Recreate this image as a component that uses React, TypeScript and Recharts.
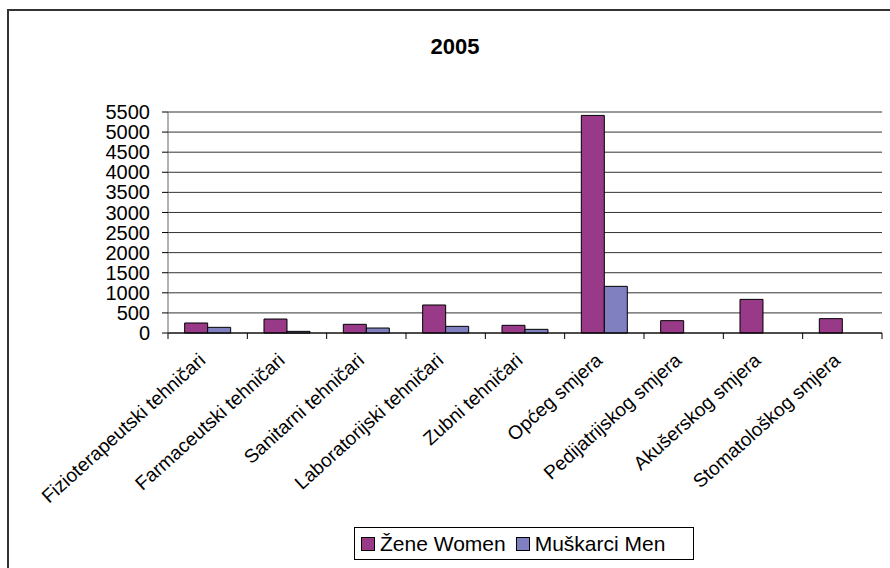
import { BarChart, Bar, XAxis, YAxis, CartesianGrid } from 'recharts';

// categories and values
const categories = [
  'Fizioterapeutski tehničari',
  'Farmaceutski tehničari',
  'Sanitarni tehničari',
  'Laboratorijski tehničari',
  'Zubni tehničari',
  'Općeg smjera',
  'Pedijatrijskog smjera',
  'Akušerskog smjera',
  'Stomatološkog smjera',
];
const women = [249, 348, 216, 697, 191, 5415, 307, 837, 357];
const men = [141, 41, 124, 166, 91, 1161, 0, 0, 0];
const yTicks = [0, 500, 1000, 1500, 2000, 2500, 3000, 3500, 4000, 4500, 5000, 5500];

const WOMEN_COLOR = '#993a88';
const MEN_COLOR = '#8080c0';
const FONT = 'Arial, "Liberation Sans", sans-serif';

const data = categories.map((name, i) => ({ name, women: women[i], men: men[i] }));

const CategoryTick = (props: any) => {
  const { x, y, payload, index } = props;
  const half = payload?.offset ?? 714 / categories.length / 2;
  const tx = x - 1;
  const ty = y + 29;
  return (
    <g>
      <line x1={x - half} y1={y} x2={x - half} y2={y + 6} stroke="#000" />
      {index === categories.length - 1 && (
        <line x1={x + half} y1={y} x2={x + half} y2={y + 6} stroke="#000" />
      )}
      <text
        x={tx}
        y={ty}
        textAnchor="end"
        transform={`rotate(-42, ${tx}, ${ty})`}
        style={{ fontSize: 19.2, fontFamily: FONT, fill: '#000' }}
      >
        {payload.value}
      </text>
    </g>
  );
};

const LegendItem = ({ color, label }: { color: string; label: string }) => (
  <span style={{ display: 'inline-flex', alignItems: 'center', marginRight: 10 }}>
    <span
      style={{
        display: 'inline-block',
        width: 12,
        height: 12,
        background: color,
        border: '1px solid #000',
        marginRight: 5,
      }}
    />
    {label}
  </span>
);

export default function App() {
  return (
    <div
      style={{
        position: 'absolute',
        left: 0,
        top: 0,
        width: 890,
        height: 568,
        overflow: 'hidden',
        background: '#fff',
        fontFamily: FONT,
      }}
    >
      <div
        style={{
          position: 'absolute',
          left: 7,
          top: 9,
          width: 950,
          height: 650,
          border: '2px solid #333',
        }}
      />
      <div
        style={{
          position: 'absolute',
          left: 0,
          top: 34,
          width: 910,
          textAlign: 'center',
          fontSize: 22,
          fontWeight: 'bold',
          color: '#000',
        }}
      >
        2005
      </div>

      <div style={{ position: 'absolute', left: 0, top: 0 }}>
        <BarChart
          width={890}
          height={568}
          data={data}
          margin={{ top: 112, right: 8, bottom: 0, left: 0 }}
          barCategoryGap="21%"
          barGap={0}
        >
          <CartesianGrid horizontal vertical={false} stroke="#333" />
          <XAxis
            dataKey="name"
            height={235}
            interval={0}
            tickLine={false}
            tickSize={0}
            tickMargin={0}
            axisLine={{ stroke: '#000' }}
            tick={<CategoryTick />}
          />
          <YAxis
            width={168}
            domain={[0, 5500]}
            ticks={yTicks}
            interval={0}
            tickSize={6}
            tickMargin={12}
            axisLine={{ stroke: '#666' }}
            tickLine={{ stroke: '#000' }}
            tick={{ fontSize: 20, fontFamily: FONT, fill: '#000' }}
          />
          <Bar dataKey="women" fill={WOMEN_COLOR} stroke="#000" strokeWidth={1} isAnimationActive={false} />
          <Bar dataKey="men" fill={MEN_COLOR} stroke="#000" strokeWidth={1} isAnimationActive={false} />
        </BarChart>
      </div>

      <div
        style={{
          position: 'absolute',
          left: 354,
          top: 527,
          width: 332,
          height: 31,
          border: '1px solid #000',
          display: 'flex',
          alignItems: 'center',
          paddingLeft: 6,
          boxSizing: 'content-box',
          fontSize: 21,
          color: '#000',
          whiteSpace: 'nowrap',
        }}
      >
        <LegendItem color={WOMEN_COLOR} label="Žene Women" />
        <LegendItem color={MEN_COLOR} label="Muškarci Men" />
      </div>
    </div>
  );
}
